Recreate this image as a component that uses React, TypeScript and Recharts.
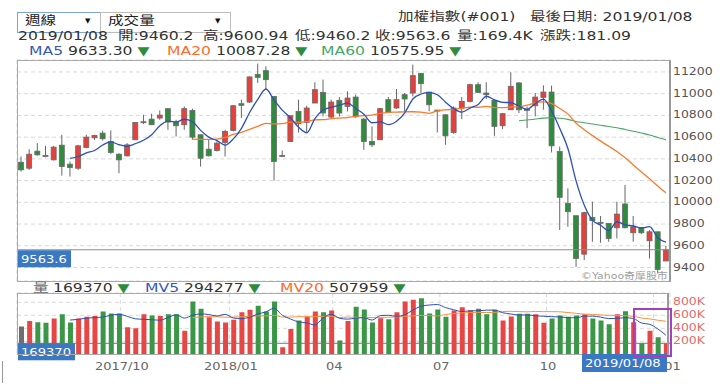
import React from 'react';
import { ComposedChart, Bar, Line, XAxis, YAxis, CartesianGrid, ReferenceLine, Cell } from 'recharts';

const weekIdx = Array.from({ length: 80 }, (_, i) => i + 1);
const opens = [10369,10314,10471,10428,10391,10526,10351,10314,10505,10594,10637,10560,10443,10428,10576,10738,10766,10776,10862,10739,10714,10846,10622,10489,10477,10551,10662,10908,10923,11178,11212,10975,10428,10560,10837,10736,10914,11012,10785,10939,10883,10969,10766,10560,10576,10945,10868,10991,11006,11185,11015,10849,10806,10643,10868,10929,11083,11006,10939,10705,10852,11099,10858,10889,10966,11015,10468,9991,9877,9523,9862,9816,9806,9766,9985,9720,9769,9646,9729,9460.2];
const highs = [10422,10489,10545,10520,10520,10622,10376,10529,10622,10622,10659,10662,10452,10545,10736,10806,10816,10846,10862,10760,10883,10862,10622,10576,10560,10668,10895,10945,11160,11277,11252,10975,10477,10797,10945,10889,11105,11129,10945,10969,11022,10991,10776,10699,10868,10969,11043,11006,11268,11191,11015,10852,10806,10883,10969,11092,11105,11105,10951,10822,11197,11105,10883,11006,11077,11074,10514,10129,9877,9914,10006,9874,9806,10006,10160,9874,9769,9745,9729,9600.94];
const lows = [10283,10299,10430,10415,10385,10246,10237,10299,10499,10576,10569,10446,10268,10422,10576,10720,10714,10760,10668,10606,10668,10576,10329,10422,10468,10422,10652,10776,10914,11099,11043,10200,10422,10560,10643,10643,10914,10791,10776,10791,10837,10776,10483,10508,10576,10822,10859,10837,10975,11006,10837,10643,10529,10631,10766,10920,11006,10951,10612,10674,10852,10822,10683,10791,10852,10459,9745,9775,9406,9468,9637,9628,9637,9668,9760,9637,9708,9483,9345,9460.2];
const closes = [10299,10443,10437,10432,10508,10329,10320,10520,10600,10615,10585,10459,10391,10529,10736,10742,10714,10803,10739,10705,10862,10600,10406,10428,10545,10652,10889,10893,11154,11150,11129,10376,10432,10797,10723,10868,11037,10822,10923,10822,10960,10791,10560,10529,10862,10831,10945,10951,11166,11092,10898,10843,10612,10868,10929,11083,11012,10991,10699,10816,11068,10852,10846,10969,11015,10520,10046,9914,9483,9905,9831,9810,9668,9892,9766,9775,9720,9729,9382.5,9563.6];
const volumesK = [427,514,494,484,550,617,489,550,576,591,658,627,627,417,402,617,597,591,617,617,361,812,699,571,504,489,530,648,684,745,658,812,109,391,520,581,658,648,673,212,514,730,689,489,555,540,648,812,838,863,627,689,576,673,725,679,699,617,684,520,581,622,622,617,484,550,597,576,597,617,550,520,463,617,663,494,171,361,263,169.37];

const ma5Start = 7;
const ma5 = [10405.2,10421.8,10455.4,10476.8,10528,10555.8,10530,10515.8,10540,10571.4,10622.4,10704.8,10746.8,10740.6,10764.6,10741.8,10662.4,10600.2,10568.2,10526.2,10584,10681.4,10826.6,10947.6,11043,10940.4,10848.2,10776.8,10691.4,10639.2,10771.4,10849.4,10874.6,10894.4,10912.8,10863.6,10811.2,10732.4,10740.4,10714.6,10745.4,10823.6,10951,10997,11010.4,10990,10922.2,10862.6,10830,10867,10900.8,10976.6,10942.8,10920.2,10917.2,10885.2,10856.2,10910.2,10950,10840.4,10679.2,10492.8,10195.6,9973.6,9835.8,9788.6,9739.4,9821.2,9793.4,9782.2,9764.2,9776.4,9674.5,9633.3];
const ma20Start = 22;
const ma20 = [10581.3,10579.8,10579.6,10581.4,10597.6,10626,10644.7,10672.4,10699.1,10726.3,10722.2,10724.2,10737.6,10737,10743.3,10759.4,10760.4,10769.6,10775.4,10780.3,10789.9,10797.6,10802.6,10818.5,10827.4,10830.2,10833.1,10833.7,10830.8,10819.3,10842.6,10851.6,10855.2,10865.5,10876.2,10875,10883.4,10872.2,10871.9,10877.3,10880.4,10894.6,10916.7,10924.3,10908.8,10863.8,10812,10727.8,10668.5,10615.1,10563.5,10516.3,10467.5,10409.3,10343.9,10279.3,10216.2,10150.4,10087.3];
const ma60Start = 62;
const ma60 = [10750.5,10757.3,10766.3,10774.8,10777.9,10773.4,10763.3,10744.7,10732.8,10720.3,10709.4,10697.4,10686.8,10670.6,10654.5,10637.9,10620,10597.4,10576];
const mv5Start = 7;
const mv5 = [526.8,538,556.4,564.6,572.8,600.4,615.8,584,546.2,538,532,524.8,564.8,607.8,556.6,599.6,621.2,612,589.4,615,558.6,548.4,571,619.2,653,709.4,601.6,543,498,482.6,451.8,559.6,616,554.4,541,555.4,563.6,526.8,595.4,600.6,584.2,608.8,678.6,740.2,757.6,765.8,718.6,685.6,658,668.4,670.4,678.6,680.8,639.8,620.2,604.8,605.8,592.4,585.2,579,574,564.8,560.8,587.4,587.4,572,549.4,553.4,562.6,551.4,481.6,461.2,390.4,294.3];
const mv20Start = 22;
const mv20 = [564.7,575,579.3,577,570.6,572.7,577.6,583,590.7,590.7,599.9,574,572.7,578.6,576.8,579.9,582.7,585.5,565.3,572.9,568.8,568.3,564.2,566.8,569.3,575.2,583.4,591.1,597,595.5,589.3,612.7,626.8,637,641.9,644,642.4,643,658.4,661.7,656.3,653,659.4,655.8,656.3,653.8,642,629.9,617.6,613.8,605.3,599.7,596.9,593.8,584.5,558.1,545.3,524.3,508];

const priceTicks = [9400, 9600, 9800, 10000, 10200, 10400, 10600, 10800, 11000, 11200];
const volTicks = [200, 400, 600, 800];
const xTickPos = [13.16, 26.52, 39.17, 52.3, 65.38, 78.48];
const xTickLabels = ['2017/10', '2018/01', '04', '07', '10', '01'];

const lastClose = closes[closes.length - 1];
const lastVol = volumesK[volumesK.length - 1];

const RED = '#e5403b';
const GREEN = '#2f8c3f';
const VRED = '#e84545';
const VGREEN = '#3a9747';
const BLUE_TAG = '#3a78c3';
const FONT = '"DejaVu Sans", "Noto Sans CJK TC", sans-serif';

const pick = (arr: number[], start: number, i: number) => {
  const j = i - (start - 1);
  return j >= 0 && j < arr.length ? arr[j] : null;
};

const rows = weekIdx.map((t, i) => ({
  t,
  range: [lows[i], highs[i]],
  o: opens[i],
  c: closes[i],
  hi: highs[i],
  lo: lows[i],
  vol: volumesK[i],
  ma5: pick(ma5, ma5Start, i),
  ma20: pick(ma20, ma20Start, i),
  ma60: pick(ma60, ma60Start, i),
  mv5: pick(mv5, mv5Start, i),
  mv20: pick(mv20, mv20Start, i),
}));

function Candle(props: any) {
  const { x, y, width, height, payload } = props;
  if (payload == null || x == null) return null;
  const top = Math.min(y, y + height);
  const h = Math.abs(height);
  const span = payload.hi - payload.lo;
  const k = span > 0 ? h / span : 0;
  const yO = top + (payload.hi - payload.o) * k;
  const yC = top + (payload.hi - payload.c) * k;
  const bodyTop = Math.min(yO, yC);
  const bodyH = Math.max(1, Math.abs(yO - yC));
  const up = payload.c >= payload.o;
  const cx = x + width / 2;
  return (
    <g>
      <line x1={cx} x2={cx} y1={top} y2={top + h} stroke="#666" strokeWidth={1} />
      <rect x={x + 0.5} y={bodyTop} width={width - 1} height={bodyH} fill={up ? RED : GREEN} stroke="#6a6a6a" strokeWidth={0.8} />
    </g>
  );
}

function SText({ x, y, sx = 1.3, size = 10, fill = '#555', anchor = 'start', children }: any) {
  return (
    <text transform={`translate(${x},${y}) scale(${sx},1)`} x={0} y={0} fontSize={size} fill={fill} textAnchor={anchor} dominantBaseline="central" fontFamily={FONT}>
      {children}
    </text>
  );
}

function TagLabel(props: any) {
  const { viewBox, text, w, down } = props;
  const y = viewBox ? viewBox.y : 0;
  const top = down ? y + 0.5 : y;
  return (
    <g>
      <rect x={18} y={top} width={w} height={17} fill={BLUE_TAG} />
      <SText x={21} y={top + 8.8} size={10.5} sx={1.25} fill="#fff">{text}</SText>
    </g>
  );
}

function T({ x, cy, size = 12, color = '#333', sx = 1.3, children }: any) {
  return (
    <div style={{ position: 'absolute', left: x, top: cy - size * 0.7, height: size * 1.4, lineHeight: `${size * 1.4}px`, fontSize: size, fontFamily: FONT, color, whiteSpace: 'pre', transform: `scaleX(${sx})`, transformOrigin: '0 50%' }}>
      {children}
    </div>
  );
}

const TRI = '#2e8b3e';

export default function App() {
  return (
    <div style={{ position: 'fixed', left: 0, top: 0, width: 720, height: 386, background: '#fff', overflow: 'hidden' }}>
      {/* dropdowns */}
      <div style={{ position: 'absolute', left: 17, top: 12, width: 82, height: 19, border: '1px solid #7ba4d9', background: '#fff' }} />
      <div style={{ position: 'absolute', left: 100, top: 12, width: 129, height: 19, border: '1px solid #bdbdbd', background: '#fff' }} />
      <T x={25} cy={21.5} color="#222">週線</T>
      <T x={85} cy={21.5} size={7} sx={1} color="#111">▼</T>
      <T x={108} cy={21.5} color="#222">成交量</T>
      <T x={215} cy={21.5} size={7} sx={1} color="#111">▼</T>

      <T x={398} cy={17.5}>加權指數(#001)</T>
      <T x={530} cy={17.5}>最後日期: 2019/01/08</T>

      <T x={18} cy={36.8}>2019/01/08</T>
      <T x={118} cy={36.8}>開:9460.2</T>
      <T x={203} cy={36.8}>高:9600.94</T>
      <T x={295} cy={36.8}>低:9460.2</T>
      <T x={375} cy={36.8}>收:9563.6</T>
      <T x={457} cy={36.8}>量:169.4K</T>
      <T x={540} cy={36.8}>漲跌:181.09</T>

      <T x={29} cy={51.5}><span style={{ color: '#3558b5' }}>MA5</span> 9633.30 <span style={{ color: TRI }}>▼</span></T>
      <T x={167} cy={51.5}><span style={{ color: '#ff6a2b' }}>MA20</span> 10087.28 <span style={{ color: TRI }}>▼</span></T>
      <T x={321} cy={51.5}><span style={{ color: '#45a665' }}>MA60</span> 10575.95 <span style={{ color: TRI }}>▼</span></T>

      {/* main price chart */}
      <div style={{ position: 'absolute', left: 0, top: 0 }}>
        <ComposedChart width={720} height={386} data={rows} margin={{ top: 60, right: 0, bottom: 105, left: 17 }}>
          <CartesianGrid stroke="#d9d9d9" strokeDasharray="4 3" />
          <XAxis type="number" dataKey="t" domain={[0.5, 80.5]} ticks={xTickPos} interval={0} allowDataOverflow tick={false} axisLine={false} tickLine={false} height={0} />
          <YAxis orientation="right" width={50} domain={[9276, 11310]} ticks={priceTicks} interval={0} allowDataOverflow axisLine={false} tickLine={false} tickSize={0} tickMargin={3}
            tick={(p: any) => <SText x={p.x} y={p.y} size={9.6} fill="#555">{p.payload.value}</SText>} />
          <ReferenceLine y={lastClose} stroke="#8c8c8c" strokeWidth={1} label={<TagLabel text="9563.6" w={53} down />} />
          <Bar dataKey="range" barSize={6} isAnimationActive={false} shape={(p: any) => <Candle {...p} />} />
          <Line dataKey="ma60" type="monotone" stroke="#4aa564" strokeWidth={1.1} dot={false} isAnimationActive={false} connectNulls={false} />
          <Line dataKey="ma20" type="monotone" stroke="#f97a2c" strokeWidth={1.3} dot={false} isAnimationActive={false} connectNulls={false} />
          <Line dataKey="ma5" type="monotone" stroke="#2c50b8" strokeWidth={1.3} dot={false} isAnimationActive={false} connectNulls={false} />
        </ComposedChart>
      </div>

      {/* volume chart */}
      <div style={{ position: 'absolute', left: 0, top: 0 }}>
        <ComposedChart width={720} height={386} data={rows} margin={{ top: 293, right: 0, bottom: 11.7, left: 17 }}>
          <CartesianGrid stroke="#d9d9d9" strokeDasharray="4 3" />
          <XAxis type="number" dataKey="t" domain={[0.5, 80.5]} ticks={xTickPos} interval={0} allowDataOverflow axisLine={false} tickLine={false} tickSize={0} tickMargin={0} height={20}
            tick={(p: any) => {
              const i = xTickPos.indexOf(p.payload.value);
              const dx = i === xTickPos.length - 1 ? 19 : 1.5;
              return <SText x={p.x + dx} y={p.y + 12} size={10} fill="#666" anchor="middle">{xTickLabels[i]}</SText>;
            }} />
          <YAxis orientation="right" width={50} domain={[0, 943]} ticks={volTicks} interval={0} allowDataOverflow axisLine={false} tickLine={false} tickSize={0} tickMargin={3}
            tick={(p: any) => <SText x={p.x} y={p.y} size={9.6} fill="#e36b6b">{`${p.payload.value}K`}</SText>} />
          <Bar dataKey="vol" barSize={5} isAnimationActive={false}>
            {rows.map((r, i) => (
              <Cell key={i} fill={i === 0 ? '#6e6e6e' : closes[i] >= closes[i - 1] ? VRED : VGREEN} />
            ))}
          </Bar>
          <ReferenceLine y={lastVol} stroke="#777" strokeWidth={1} label={<TagLabel text="169370" w={57} />} />
          <Line dataKey="mv20" type="monotone" stroke="#f7923f" strokeWidth={1} dot={false} isAnimationActive={false} />
          <Line dataKey="mv5" type="monotone" stroke="#2c50b8" strokeWidth={1} dot={false} isAnimationActive={false} />
        </ComposedChart>
      </div>

      {/* frames */}
      <div style={{ position: 'absolute', left: 17, top: 60, width: 651, height: 220, borderTop: '1px solid #aaa', borderLeft: '1px solid #aaa', borderBottom: '1px solid #aaa', borderRight: '2px solid #999' }} />
      <div style={{ position: 'absolute', left: 17, top: 293, width: 649, height: 60, borderTop: '1px solid #aaa', borderLeft: '1px solid #aaa', borderBottom: '1px solid #aaa', borderRight: '2px solid #999' }} />

      <T x={581} cy={276} size={9.5} sx={1.15} color="#a0a0a0">©Yahoo奇摩股市</T>

      {/* volume legend */}
      <T x={33} cy={288} color="#666">量</T>
      <T x={53} cy={288}>169370 <span style={{ color: TRI }}>▼</span></T>
      <T x={145} cy={288}><span style={{ color: '#3558b5' }}>MV5</span> 294277 <span style={{ color: TRI }}>▼</span></T>
      <T x={280} cy={288}><span style={{ color: '#ff6a2b' }}>MV20</span> 507959 <span style={{ color: TRI }}>▼</span></T>

      {/* last date tag */}
      <div style={{ position: 'absolute', left: 582, top: 354, width: 85, height: 18, background: BLUE_TAG }} />
      <T x={585} cy={363.5} size={10.5} sx={1.25} color="#fff">2019/01/08</T>

      {/* highlight box */}
      <div style={{ position: 'absolute', left: 633, top: 308, width: 35, height: 45, border: '2px solid #a53fbf' }} />
      <div style={{ position: 'absolute', left: 2, top: 361, width: 1, height: 22, background: '#999' }} />
    </div>
  );
}
